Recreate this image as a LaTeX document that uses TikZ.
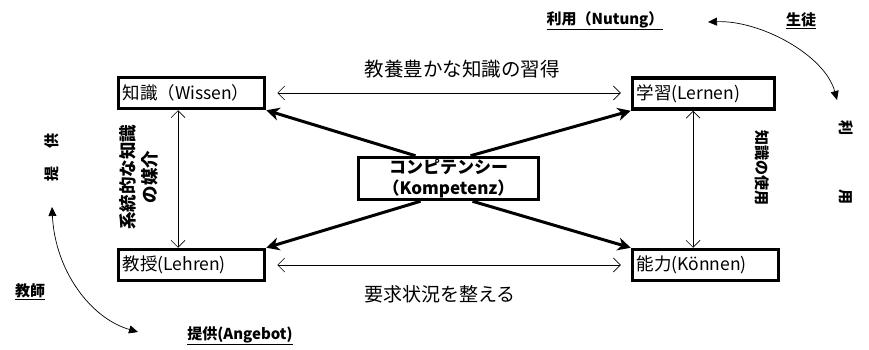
\documentclass[tikz,border=0pt]{standalone}
\usepackage{fontspec}
\setmainfont{Noto Sans CJK JP}
\usetikzlibrary{arrows.meta}
\begin{document}
\begin{tikzpicture}[x=1pt,y=-1pt,
  box/.style={draw,line width=3.5pt,inner ysep=0pt,inner xsep=4pt,minimum height=31pt,align=left,font=\fontsize{17.5}{19}\selectfont},
  cbox/.style={draw,line width=3.5pt,inner sep=0pt,minimum width=180pt,minimum height=42pt,align=center,font=\bfseries\fontsize{17}{21}\selectfont},
  dblarrow/.style={line width=0.7pt,{Straight Barb[length=7pt,width=14pt]}-{Straight Barb[length=7pt,width=14pt]}},
  bigarrow/.style={line width=3pt,-{Stealth[length=13pt,width=13pt,inset=4pt]}},
  curvarrow/.style={line width=0.7pt,{Triangle[length=9pt,width=8pt]}-{Triangle[length=9pt,width=8pt]}},
  lab/.style={font=\fontsize{19}{21}\selectfont},
  ullab/.style={font=\bfseries\fontsize{15}{17}\selectfont},
  vlab/.style={font=\bfseries\fontsize{15}{22}\selectfont,align=center},
]
\useasboundingbox (0,0) rectangle (869,350);
% boxes
\node[box,text width=138pt] (wis) at (191.5,93) {知識（Wissen）};
\node[box,text width=134pt] (ler) at (703.5,93.5) {学習(Lernen)};
\node[box,text width=138pt] (leh) at (191.5,265) {教授(Lehren)};
\node[box,text width=138pt] (kon) at (705.5,265) {能力(Können)};
\node[cbox] (komp) at (448.5,178.5) {コンピテンシー\\（Kompetenz）};
% thin double arrows
\draw[dblarrow] ([xshift=11pt]wis.east) -- ([xshift=-10pt]ler.west |- wis.east);
\draw[dblarrow] ([xshift=11pt]leh.east) -- ([xshift=-10pt]kon.west |- leh.east);
\draw[dblarrow] ([xshift=-13.5pt]wis.south) -- ([xshift=-13.5pt]leh.north);
\draw[dblarrow] ([xshift=-10.5pt]ler.south) -- ([xshift=-10.5pt]ler.south |- kon.north);
% labels of thin arrows
\node[lab,font=\fontsize{19.5}{21}\selectfont] (t1) at (462,69) {教養豊かな知識の習得};
\node[lab] (t2) at (440,294) {要求状況を整える};
\node[vlab,rotate=90,font=\bfseries\fontsize{17.5}{22}\selectfont] (t3) at (139,177) {系統的な知識\\の媒介};
\node[vlab,rotate=-90] (t4) at (762,168) {知識の使用};
% thick arrows
\draw[bigarrow] ([xshift=-33pt]komp.north) -- (wis.south east);
\draw[bigarrow] ([xshift=22pt]komp.north) -- (ler.south west);
\draw[bigarrow] ([xshift=-28pt]komp.south) -- (leh.north east);
\draw[bigarrow] ([xshift=24pt]komp.south) -- (kon.north west);
% corner labels
\node[ullab] (nut) at (605,21) {\underline{利用（Nutung）}};
\node[ullab] (sei) at (801,21) {\underline{生徒}};
\node[ullab] (kyo) at (30,292) {\underline{教師}};
\node[ullab] (ang) at (240,336) {\underline{提供(Angebot)}};
\node[vlab,rotate=-90] (riy) at (846,163) {利\hspace{54pt}用};
\node[vlab,rotate=90] (tei) at (52,157) {提\hspace{18pt}供};
% curved arrows
\coordinate (c1) at (708,22);
\coordinate (c2) at (837,100);
\coordinate (c3) at (52,207);
\coordinate (c4) at (138,332);
\draw[curvarrow] (c1) .. controls (760,20) and (825,55) .. (c2);
\draw[curvarrow] (c3) .. controls (55,270) and (90,318) .. (c4);
\end{tikzpicture}
\end{document}
